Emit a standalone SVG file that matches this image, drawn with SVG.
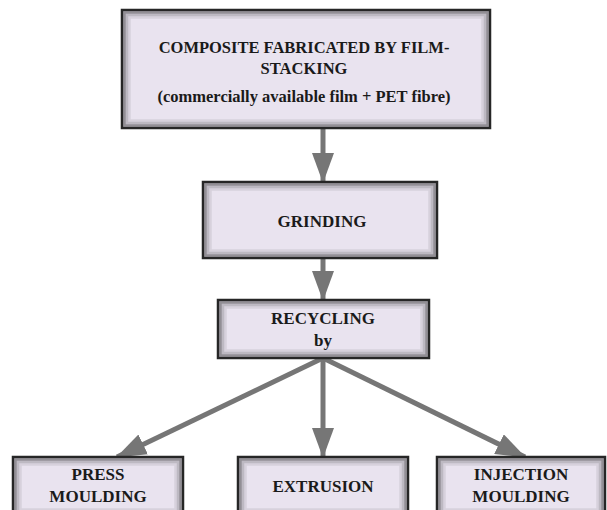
<svg xmlns="http://www.w3.org/2000/svg" width="607" height="510" viewBox="0 0 607 510">
<defs>
<marker id="ah" markerWidth="6" markerHeight="4.4" refX="5.8" refY="2.2" orient="auto" markerUnits="strokeWidth">
<path d="M0,0 L6,2.2 L0,4.4 Z" fill="#767676"/>
</marker>
</defs>
<style>
.box{fill:#e9e3ef;stroke:#262626;stroke-width:2.5}
.s1{fill:none;stroke:#3c3c3c;stroke-width:2.5;stroke-opacity:0.5}
.s2{fill:none;stroke:#3c3c3c;stroke-width:2.5;stroke-opacity:0.25}
.s3{fill:none;stroke:#3c3c3c;stroke-width:2.5;stroke-opacity:0.1}
.t{font-family:"Liberation Serif","Times New Roman",serif;font-weight:bold;font-size:17px;fill:#1a1a1a;text-anchor:middle}
.tt{font-size:16.5px}
.c{stroke:#767676;stroke-width:5;fill:none}
</style>
<g id="connectors">
<line class="c" x1="323" y1="128" x2="323" y2="182" marker-end="url(#ah)"/>
<line class="c" x1="323" y1="258" x2="323" y2="300" marker-end="url(#ah)"/>
<line class="c" x1="323" y1="358" x2="117" y2="457" marker-end="url(#ah)"/>
<line class="c" x1="323" y1="358" x2="323" y2="457" marker-end="url(#ah)"/>
<line class="c" x1="323" y1="358" x2="525" y2="457" marker-end="url(#ah)"/>
</g>
<g id="composite">
<rect class="box" x="122" y="10" width="368" height="118"/>
<rect class="s1" x="124.5" y="12.5" width="363" height="113"/>
<rect class="s2" x="127" y="15" width="358" height="108"/>
<rect class="s3" x="129.5" y="17.5" width="353" height="103"/>
<text class="t tt" x="304" y="53">COMPOSITE FABRICATED BY FILM-</text>
<text class="t tt" x="304" y="74">STACKING</text>
<text class="t tt" x="304" y="102">(commercially available film + PET fibre)</text>
</g>
<g id="grinding">
<rect class="box" x="203" y="182" width="234" height="76"/>
<rect class="s1" x="205.5" y="184.5" width="229" height="71"/>
<rect class="s2" x="208" y="187" width="224" height="66"/>
<rect class="s3" x="210.5" y="189.5" width="219" height="61"/>
<text class="t" x="322" y="227">GRINDING</text>
</g>
<g id="recycling">
<rect class="box" x="218" y="300" width="211" height="58"/>
<rect class="s1" x="220.5" y="302.5" width="206" height="53"/>
<rect class="s2" x="223" y="305" width="201" height="48"/>
<rect class="s3" x="225.5" y="307.5" width="196" height="43"/>
<text class="t" x="323" y="324">RECYCLING</text>
<text class="t" x="323" y="346">by</text>
</g>
<g id="press">
<rect class="box" x="13" y="457" width="170" height="60"/>
<rect class="s1" x="15.5" y="459.5" width="165" height="55"/>
<rect class="s2" x="18" y="462" width="160" height="50"/>
<rect class="s3" x="20.5" y="464.5" width="155" height="45"/>
<text class="t" x="98" y="480">PRESS</text>
<text class="t" x="98" y="502">MOULDING</text>
</g>
<g id="extrusion">
<rect class="box" x="238" y="457" width="170" height="60"/>
<rect class="s1" x="240.5" y="459.5" width="165" height="55"/>
<rect class="s2" x="243" y="462" width="160" height="50"/>
<rect class="s3" x="245.5" y="464.5" width="155" height="45"/>
<text class="t" x="323" y="492">EXTRUSION</text>
</g>
<g id="injection">
<rect class="box" x="437" y="457" width="168" height="60"/>
<rect class="s1" x="439.5" y="459.5" width="163" height="55"/>
<rect class="s2" x="442" y="462" width="158" height="50"/>
<rect class="s3" x="444.5" y="464.5" width="153" height="45"/>
<text class="t" x="521" y="480">INJECTION</text>
<text class="t" x="521" y="502">MOULDING</text>
</g>
</svg>
